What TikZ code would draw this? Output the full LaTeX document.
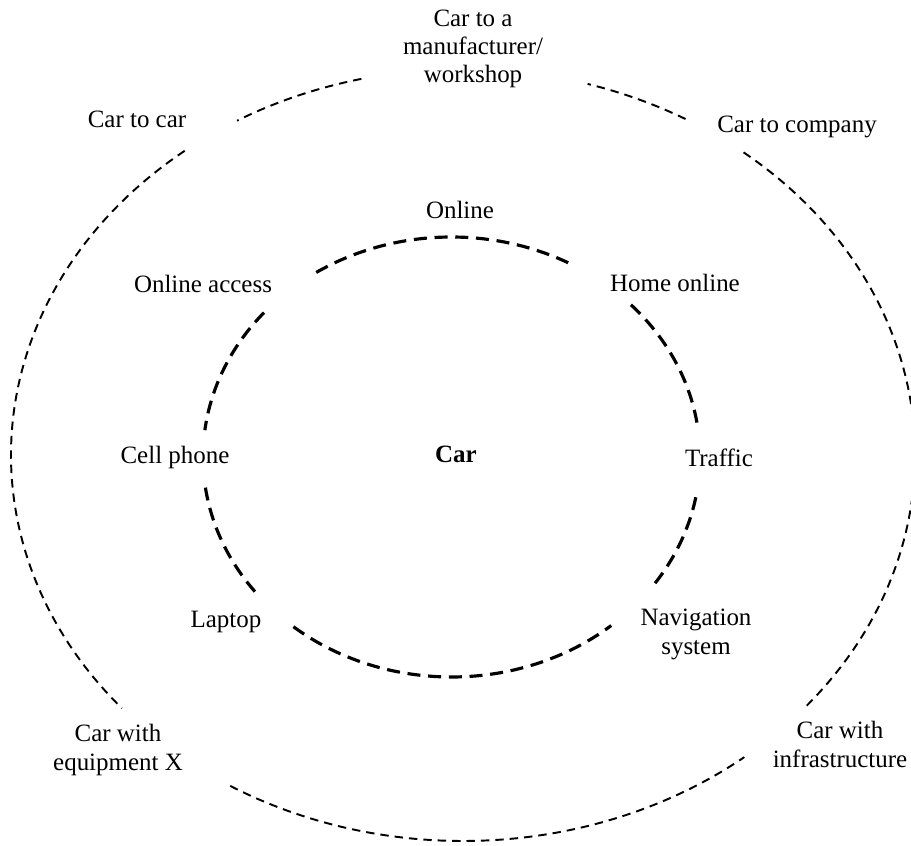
\documentclass[tikz,border=0pt]{standalone}
\usepackage{fontspec}
\setmainfont{Liberation Serif}
\usetikzlibrary{calc}

\tikzset{
  outerring/.style={line width=1.1pt, dash pattern=on 4.8pt off 3.4pt},
  innerring/.style={line width=1.8pt, dash pattern=on 7.4pt off 4.4pt},
  ringlabel/.style={font=\fontsize{14.2}{16.2}\selectfont, align=center, inner sep=0pt, anchor=base}
}

\begin{document}
\begin{tikzpicture}[x=0.2mm, y=0.2mm]
            \useasboundingbox (0,0) rectangle (911,845);
            \clip (0,0) rectangle (911,845);
            \coordinate (outer) at (463,390);
            \coordinate (inner) at (451.5,388);

            % Outer ring
            \foreach \a/\b in {-40.5/52, 60.5/74, 103/120, 128/221, 239/308.5}
              \draw[outerring] ($(outer)+(\a:452 and 386)$) arc[start angle=\a, end angle=\b, x radius=452, y radius=386];

            % Inner ring
            \foreach \a/\b in {9/44, 62/124, 139/173, 188/218, 230.5/310, 325/351}
              \draw[innerring] ($(inner)+(\a:248.5 and 220)$) arc[start angle=\a, end angle=\b, x radius=248.5, y radius=220];

            % Outer labels (base = last line)
            \node[ringlabel] (maker) at (473,762) {Car to a\\manufacturer/\\workshop};
            \node[ringlabel] (c2c) at (137,717) {Car to car};
            \node[ringlabel] (company) at (797,712) {Car to company};
            \node[ringlabel] (equip) at (118,75) {Car with\\equipment X};
            \node[ringlabel] (infra) at (840,78) {Car with\\infrastructure};

            % Inner labels
            \node[ringlabel] (online) at (460,626) {Online};
            \node[ringlabel] (access) at (203,552) {Online access};
            \node[ringlabel] (home) at (675,553) {Home online};
            \node[ringlabel] (phone) at (175,382) {Cell phone};
            \node[ringlabel] (traffic) at (719,379) {Traffic};
            \node[ringlabel] (laptop) at (226,218) {Laptop};
            \node[ringlabel] (navi) at (696,191) {Navigation\\system};

            % Centre
            \node[ringlabel, font=\fontsize{14.2}{16.2}\selectfont\bfseries] (car) at (456,383) {Car};
\end{tikzpicture}
\end{document}
